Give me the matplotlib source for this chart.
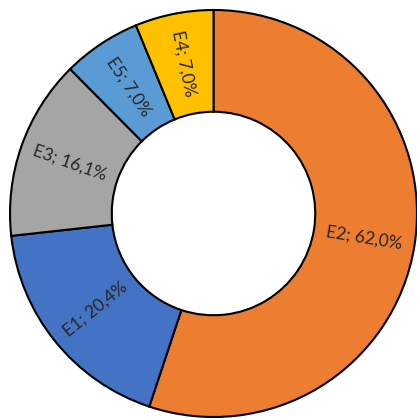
import numpy as np
import matplotlib
matplotlib.use("Agg")
import matplotlib.pyplot as plt

categories = ["E2", "E1", "E3", "E5", "E4"]
values = [62.0, 20.4, 16.1, 7.0, 7.0]
labels = ["E2; 62,0%", "E1; 20,4%", "E3; 16,1%", "E5; 7,0%", "E4; 7,0%"]
colors = ["#ED7D31", "#4472C4", "#A5A5A5", "#5B9BD5", "#FFC000"]

fig = plt.figure(figsize=(4.17, 4.18), dpi=100)
ax = fig.add_axes([10/417, 1/418, 407/417, 407/418])
wedges, _ = ax.pie(values, colors=colors, startangle=90, counterclock=False,
                   radius=1.0,
                   wedgeprops=dict(width=0.5, edgecolor="black", linewidth=1.5))
ax.set_xlim(-1, 1)
ax.set_ylim(-1, 1)
ax.set_aspect("equal")
ax.axis("off")

r_lab = 0.75
for w, lab in zip(wedges, labels):
    mid = 0.5 * (w.theta1 + w.theta2)
    rad = np.deg2rad(mid)
    x, y = r_lab * np.cos(rad), r_lab * np.sin(rad)
    rot = mid
    while rot > 90:
        rot -= 180
    while rot < -90:
        rot += 180
    ax.text(x, y, lab, ha="center", va="center", rotation=rot,
            rotation_mode="anchor", fontsize=12.5, family="Lato", color="#262626")

fig.savefig("out.png", dpi=100)
